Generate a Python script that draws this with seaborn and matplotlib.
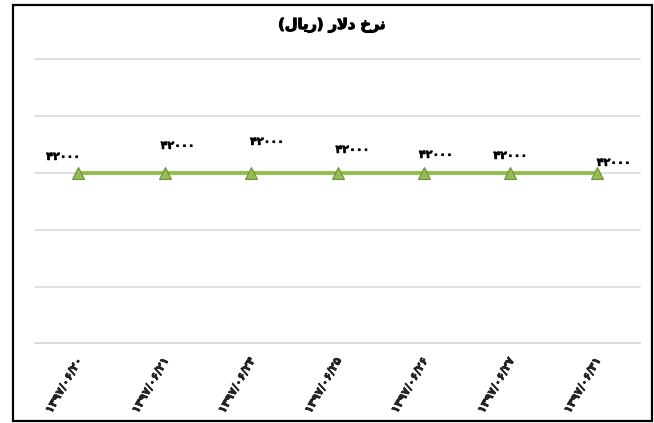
import matplotlib
matplotlib.use("Agg")
import matplotlib.pyplot as plt
import matplotlib.patches as mpatches
import matplotlib.patheffects as pe
import matplotlib.transforms as mtrans
import seaborn as sns
import pandas as pd

dates = ["۱۳۹۷/۰۶/۲۰", "۱۳۹۷/۰۶/۲۱", "۱۳۹۷/۰۶/۲۴", "۱۳۹۷/۰۶/۲۵",
         "۱۳۹۷/۰۶/۲۶", "۱۳۹۷/۰۶/۲۷", "۱۳۹۷/۰۶/۳۱"]
rates = [42000, 42000, 42000, 42000, 42000, 42000, 42000]
value_labels = ["۴۲۰۰۰"] * 7
# title "نرخ دلار (ریال)" written in visual (shaped, left-to-right) order
title = "(\uFEDD\uFE8E\uFEF3\uFEAD) \uFEAD\uFEFB\uFEA9 \uFEA5\uFEAE\uFEE7"

df = pd.DataFrame({"date": dates, "rate": rates})

sns.set_style("white")
plt.rcParams["font.family"] = ["DejaVu Sans"]

fig = plt.figure(figsize=(6.54, 4.23), dpi=100)
ax = fig.add_axes([35/654, 1-343.3/423, (640-35)/654, (343.3-59.3)/423])

sns.lineplot(data=df, x="date", y="rate", ax=ax, color="#8CC04A", linewidth=2.8,
             marker="^", markersize=8, markerfacecolor="#94BB55",
             markeredgecolor="#6F9139", markeredgewidth=0.8, sort=False, zorder=3)

ax.set_xlim(-0.5, 6.5)
ax.set_ylim(41997, 42002)
ax.set_yticks([41997, 41998, 41999, 42000, 42001, 42002])
ax.set_yticklabels([])
ax.yaxis.grid(True, color="#D9D9D9", linewidth=1.2)
for gl in ax.get_ygridlines():
    gl.set_clip_on(False)
ax.tick_params(axis="both", length=0)
for s in ["top", "right", "left"]:
    ax.spines[s].set_visible(False)
ax.spines["bottom"].set_color("#D9D9D9")
ax.spines["bottom"].set_linewidth(1.2)
ax.set_xlabel("")
ax.set_ylabel("")

bold = [pe.withStroke(linewidth=0.5, foreground="black")]

ax.set_xticks(range(len(dates)))
ax.set_xticklabels(dates, rotation=60, ha="right", va="top",
                   fontsize=8, fontweight="bold")
ax.tick_params(axis="x", pad=9)
off = mtrans.ScaledTranslation(6/100, 0, fig.dpi_scale_trans)
for lbl in ax.get_xticklabels():
    lbl.set_transform(lbl.get_transform() + off)
    lbl.set_path_effects(bold)

offsets = [(-15, 16), (13, 27), (16, 31), (15, 23), (12, 18), (0, 17), (17, 10)]
for i, (lab, v) in enumerate(zip(value_labels, rates)):
    dx, dy = offsets[i]
    ax.annotate(lab, (i, v), xytext=(dx * 0.72, dy * 0.72), textcoords="offset points",
                ha="center", va="center", fontsize=8, fontweight="bold",
                color="#000000", zorder=5, path_effects=bold)

fig.text(332/654, 1-25/423, title, ha="center", va="center",
         fontsize=10.5, fontweight="bold", color="black",
         path_effects=[pe.withStroke(linewidth=0.8, foreground="black")])

fig.patches.append(mpatches.Rectangle((13/654, 1-421/423), (652-13)/654, (421-5)/423,
                                      transform=fig.transFigure, fill=False,
                                      edgecolor="black", linewidth=1.6))

fig.savefig("out.png", dpi=100)
